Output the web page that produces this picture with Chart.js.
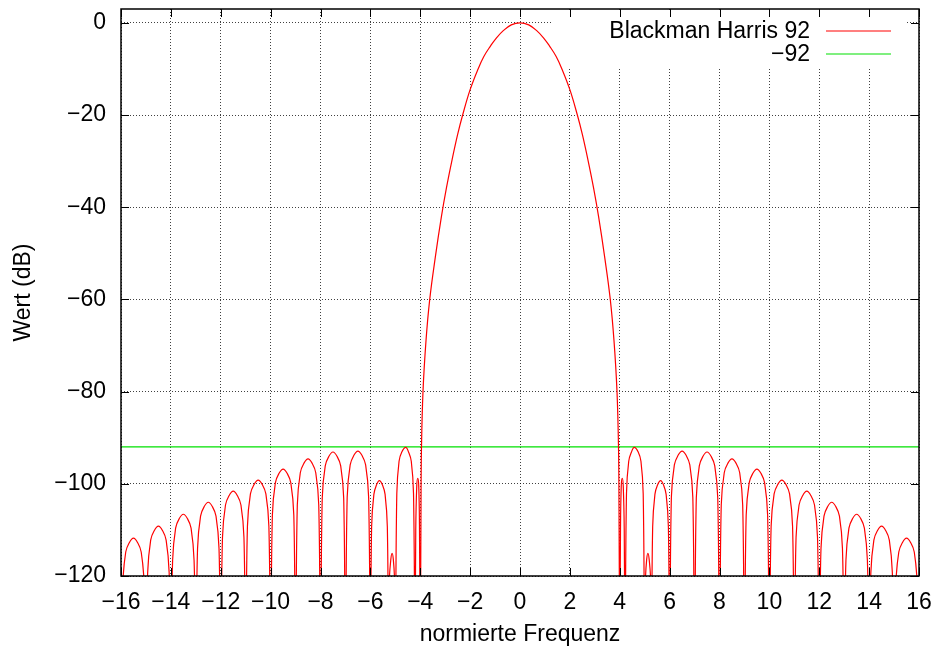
<!DOCTYPE html>
<html>
<head>
<meta charset="utf-8">
<title>Blackman Harris 92</title>
<script src="https://cdn.jsdelivr.net/npm/chart.js@4.4.1/dist/chart.umd.min.js"></script>
<style>
  html, body { margin: 0; padding: 0; background: #fff; }
  canvas { display: block; }
</style>
</head>
<body>
<canvas id="spectrum" width="939" height="651"></canvas>
<script>
// Achsen
const xTicks = [-16, -14, -12, -10, -8, -6, -4, -2, 0, 2, 4, 6, 8, 10, 12, 14, 16];
const yTicks = [-120, -100, -80, -60, -40, -20, 0];

// Spektrum Blackman Harris 92, eine Zeile pro Keule
const freq = [
  -16, -15.93, -15.81, -15.67, -15.5, -15.33, -15.19, -15.07,
  -15, -14.93, -14.81, -14.67, -14.5, -14.33, -14.19, -14.07,
  -14, -13.93, -13.81, -13.67, -13.5, -13.33, -13.19, -13.07,
  -13, -12.93, -12.81, -12.67, -12.5, -12.33, -12.19, -12.07,
  -12, -11.93, -11.81, -11.67, -11.5, -11.33, -11.19, -11.07,
  -11, -10.93, -10.81, -10.67, -10.5, -10.33, -10.19, -10.07,
  -10, -9.93, -9.81, -9.67, -9.5, -9.33, -9.19, -9.07,
  -9, -8.93, -8.81, -8.67, -8.5, -8.33, -8.19, -8.07,
  -8, -7.93, -7.81, -7.67, -7.5, -7.33, -7.19, -7.07,
  -7, -6.93, -6.81, -6.67, -6.5, -6.33, -6.19, -6.07,
  -6, -5.95, -5.86, -5.76, -5.64, -5.51, -5.41, -5.32,
  -5.27, -5.24, -5.18, -5.13, -5.08, -5.03,
  -5.0, -4.94, -4.85, -4.74, -4.58, -4.47, -4.36, -4.27,
  -4.21, -4.18, -4.14, -4.1, -4.06, -4.03,
  -4.0, -3.97, -3.95, -3.89, -3.77, -3.62, -3.4, -3.15, -2.95, -2.72, -2.5, -2.3, -2.0,
  -1.68, -1.45, -1.18, -0.95, -0.67, -0.35,
  0,
  0.35, 0.67, 0.95, 1.18, 1.45, 1.68,
  2.0, 2.3, 2.5, 2.72, 2.95, 3.15, 3.4, 3.62, 3.77, 3.89, 3.95, 3.97, 4.0,
  4.03, 4.06, 4.1, 4.14, 4.18, 4.21,
  4.27, 4.36, 4.47, 4.58, 4.74, 4.85, 4.94, 5.0,
  5.03, 5.08, 5.13, 5.18, 5.24, 5.27,
  5.32, 5.41, 5.51, 5.64, 5.76, 5.86, 5.95, 6,
  6.07, 6.19, 6.33, 6.5, 6.67, 6.81, 6.93, 7,
  7.07, 7.19, 7.33, 7.5, 7.67, 7.81, 7.93, 8,
  8.07, 8.19, 8.33, 8.5, 8.67, 8.81, 8.93, 9,
  9.07, 9.19, 9.33, 9.5, 9.67, 9.81, 9.93, 10,
  10.07, 10.19, 10.33, 10.5, 10.67, 10.81, 10.93, 11,
  11.07, 11.19, 11.33, 11.5, 11.67, 11.81, 11.93, 12,
  12.07, 12.19, 12.33, 12.5, 12.67, 12.81, 12.93, 13,
  13.07, 13.19, 13.33, 13.5, 13.67, 13.81, 13.93, 14,
  14.07, 14.19, 14.33, 14.5, 14.67, 14.81, 14.93, 15,
  15.07, 15.19, 15.33, 15.5, 15.67, 15.81, 15.93, 16
];
const level = [
  -140, -121.8, -114.8, -112.8, -111.8, -112.8, -114.8, -121.8,
  -140, -119.2, -112.2, -110.2, -109.2, -110.2, -112.2, -119.2,
  -140, -116.6, -109.6, -107.6, -106.6, -107.6, -109.6, -116.6,
  -140, -114, -107, -105, -104, -105, -107, -114,
  -140, -111.6, -104.6, -102.6, -101.6, -102.6, -104.6, -111.6,
  -140, -109.2, -102.2, -100.2, -99.2, -100.2, -102.2, -109.2,
  -140, -106.8, -99.8, -97.8, -96.8, -97.8, -99.8, -106.8,
  -140, -104.6, -97.6, -95.6, -94.6, -95.6, -97.6, -104.6,
  -140, -103.1, -96.1, -94.1, -93.1, -94.1, -96.1, -103.1,
  -140, -102.9, -95.9, -93.9, -92.9, -93.9, -95.9, -102.9,
  -140, -109.3, -102.3, -100.3, -99.3, -100.3, -102.3, -109.3,
  -140, -121, -116.4, -115.1, -116.4, -121,
  -140, -102.1, -95.1, -93.1, -92.1, -93.1, -95.1, -102.1,
  -140, -110, -100.5, -98.8, -100.5, -110,
  -140, -105, -92, -80, -69, -60, -51, -42, -35.8, -29.6, -24.2, -20, -14.5,
  -10, -7.3, -5, -3.3, -1.7, -0.45,
  0,
  -0.45, -1.7, -3.3, -5, -7.3, -10,
  -14.5, -20, -24.2, -29.6, -35.8, -42, -51, -60, -69, -80, -92, -105, -140,
  -110, -100.5, -98.8, -100.5, -110, -140,
  -102.1, -95.1, -93.1, -92.1, -93.1, -95.1, -102.1, -140,
  -121, -116.4, -115.1, -116.4, -121, -140,
  -109.3, -102.3, -100.3, -99.3, -100.3, -102.3, -109.3, -140,
  -102.9, -95.9, -93.9, -92.9, -93.9, -95.9, -102.9, -140,
  -103.1, -96.1, -94.1, -93.1, -94.1, -96.1, -103.1, -140,
  -104.6, -97.6, -95.6, -94.6, -95.6, -97.6, -104.6, -140,
  -106.8, -99.8, -97.8, -96.8, -97.8, -99.8, -106.8, -140,
  -109.2, -102.2, -100.2, -99.2, -100.2, -102.2, -109.2, -140,
  -111.6, -104.6, -102.6, -101.6, -102.6, -104.6, -111.6, -140,
  -114, -107, -105, -104, -105, -107, -114, -140,
  -116.6, -109.6, -107.6, -106.6, -107.6, -109.6, -116.6, -140,
  -119.2, -112.2, -110.2, -109.2, -110.2, -112.2, -119.2, -140,
  -121.8, -114.8, -112.8, -111.8, -112.8, -114.8, -121.8, -140
];

// Grenzlinie -92 dB
const limitFreq = [-16, 16];
const limitLevel = [-92, -92];

const RED = '#ff0000';
const GREEN = '#00e000';
const FONT = "'Liberation Sans', Arial, Helvetica, sans-serif";
const minus = v => (v < 0 ? '\u2212' + (-v) : String(v));

// Legende wie bei gnuplot: Text rechtsbuendig, Linie rechts daneben
const gnuKey = {
  id: 'gnuKey',
  beforeDatasetsDraw(chart) {
    const ctx = chart.ctx;
    const a = chart.chartArea;
    const colors = [RED, GREEN];
    ctx.save();
    ctx.fillStyle = '#fff';
    ctx.fillRect(552, a.top + 1, 354, 66 - a.top);
    ctx.font = '23px ' + FONT;
    ctx.textAlign = 'right';
    ctx.textBaseline = 'middle';
    chart.data.datasets.forEach((ds, i) => {
      const yy = 32 + i * 23;
      ctx.fillStyle = '#000';
      ctx.fillText(ds.label, 810, yy);
      ctx.strokeStyle = colors[i];
      ctx.lineWidth = 1.2;
      ctx.beginPath();
      ctx.moveTo(826, yy - 1);
      ctx.lineTo(891, yy - 1);
      ctx.stroke();
    });
    ctx.restore();
  }
};

// Rahmen und nach innen zeigende Striche auf allen vier Seiten
const frame = {
  id: 'frame',
  afterDraw(chart) {
    const ctx = chart.ctx;
    const a = chart.chartArea;
    const { x, y } = chart.scales;
    ctx.save();
    ctx.strokeStyle = '#000';
    ctx.lineWidth = 1;
    ctx.beginPath();
    x.ticks.forEach(t => {
      const px = Math.round(x.getPixelForValue(t.value)) + 0.5;
      ctx.moveTo(px, a.bottom); ctx.lineTo(px, a.bottom - 8);
      ctx.moveTo(px, a.top); ctx.lineTo(px, a.top + 8);
    });
    y.ticks.forEach(t => {
      const py = Math.round(y.getPixelForValue(t.value)) + 0.5;
      ctx.moveTo(a.left, py); ctx.lineTo(a.left + 8, py);
      ctx.moveTo(a.right, py); ctx.lineTo(a.right - 8, py);
    });
    ctx.stroke();
    ctx.lineWidth = 1.5;
    ctx.strokeRect(a.left, a.top, a.right - a.left, a.bottom - a.top);
    ctx.restore();
  }
};

new Chart(document.getElementById('spectrum'), {
  type: 'line',
  data: {
    datasets: [{
      label: 'Blackman Harris 92',
      data: freq.map((f, i) => ({ x: f, y: level[i] })),
      borderColor: RED,
      borderWidth: 1.2,
      pointRadius: 0,
      tension: 0.4
    }, {
      label: '\u221292',
      data: limitFreq.map((f, i) => ({ x: f, y: limitLevel[i] })),
      borderColor: GREEN,
      borderWidth: 1.2,
      pointRadius: 0
    }]
  },
  options: {
    responsive: false,
    animation: false,
    devicePixelRatio: 1,
    layout: { padding: { top: 9, right: 20, left: 0, bottom: 0 } },
    plugins: {
      legend: { display: false },
      tooltip: { enabled: false }
    },
    scales: {
      x: {
        type: 'linear',
        min: -16,
        max: 16,
        afterBuildTicks: s => { s.ticks = xTicks.map(v => ({ value: v })); },
        afterFit: s => { s.height = 75; s.paddingLeft = 0; s.paddingRight = 0; },
        ticks: {
          autoSkip: false,
          maxRotation: 0,
          padding: 13,
          color: '#000',
          font: { family: FONT, size: 23 },
          callback: v => minus(v)
        },
        grid: { color: 'rgba(0,0,0,0.75)', drawTicks: false, lineWidth: 1 },
        border: { display: false, dash: [1, 2] },
        title: {
          display: true,
          text: 'normierte Frequenz',
          color: '#000',
          font: { family: FONT, size: 23 },
          padding: { top: 0, bottom: 3 }
        }
      },
      y: {
        min: -120,
        max: 3,
        afterBuildTicks: s => { s.ticks = yTicks.map(v => ({ value: v })); },
        afterFit: s => { s.width = 121; s.paddingTop = 0; s.paddingBottom = 0; },
        ticks: {
          padding: 15,
          color: '#000',
          font: { family: FONT, size: 23 },
          callback: v => minus(v)
        },
        grid: { color: 'rgba(0,0,0,0.75)', drawTicks: false, lineWidth: 1 },
        border: { display: false, dash: [1, 2] },
        title: {
          display: true,
          text: 'Wert (dB)',
          color: '#000',
          font: { family: FONT, size: 23 },
          padding: { top: 10, bottom: 0 }
        }
      }
    }
  },
  plugins: [gnuKey, frame]
});
</script>
</body>
</html>
